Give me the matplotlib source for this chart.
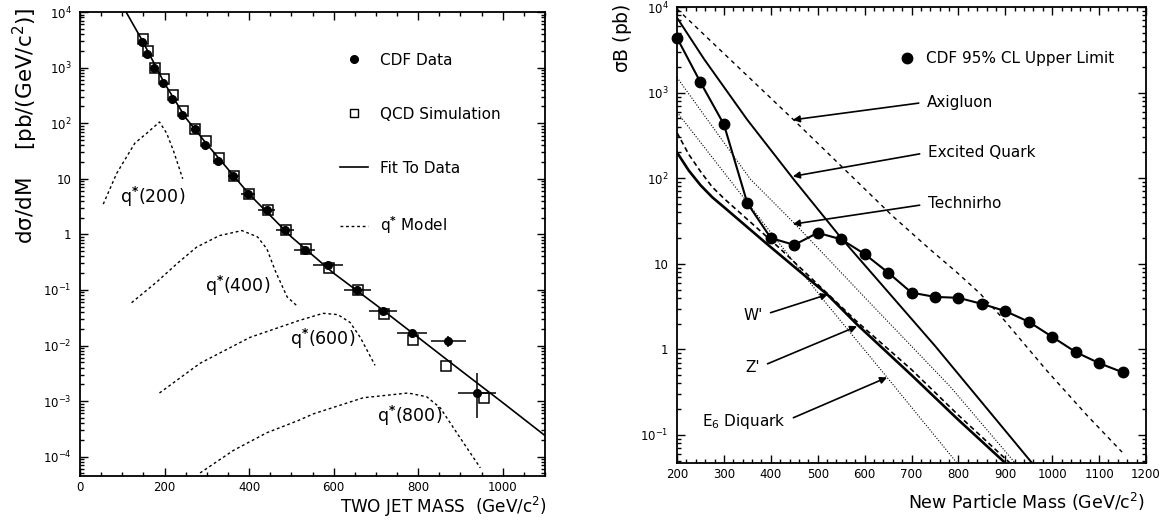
import numpy as np
import matplotlib.pyplot as plt
from matplotlib.ticker import MultipleLocator, FuncFormatter, FixedLocator, NullFormatter
from matplotlib.lines import Line2D

plt.rcParams['font.family'] = ['DejaVu Sans']
plt.rcParams['mathtext.default'] = 'regular'

# ---- left panel: two-jet mass spectrum ----
mass_cdf = [146, 158, 176, 196, 217, 242, 271, 296, 327, 363, 398, 442, 485, 532, 587, 656, 717, 786, 871, 940]
xsec_cdf = [2900, 1750, 1000, 530, 270, 140, 80, 40, 21, 11, 5.4, 2.7, 1.2, 0.53, 0.28, 0.10, 0.042, 0.017, 0.012, 0.0014]
xerr_cdf = [3, 4, 5, 5, 6, 7, 8, 10, 12, 14, 16, 20, 22, 25, 35, 32, 33, 35, 41, 45]
yerr_lo = [0] * 18 + [0.0025, 0.0009]
yerr_hi = [0] * 18 + [0.0031, 0.0018]

mass_qcd = [148, 160, 178, 198, 219, 244, 273, 298, 329, 365, 400, 444, 487, 534, 590, 658, 719, 788, 866, 956]
xsec_qcd = [3300, 2000, 1000, 620, 320, 165, 80, 48, 24, 11, 5.4, 2.8, 1.2, 0.55, 0.25, 0.10, 0.037, 0.0125, 0.0042, 0.00115]

fit_mass = [109, 146, 200, 250, 300, 400, 500, 600, 700, 800, 900, 1000, 1100]
fit_xsec = [1e4, 3200, 520, 125, 42, 5.3, 0.9, 0.2, 0.054, 0.014, 0.0036, 0.00094, 0.00024]

q200_m = [55, 87, 130, 158, 188, 205, 221, 243]
q200_s = [3.5, 12.6, 44, 66, 105, 66, 32, 10]
q400_m = [122, 182, 230, 276, 330, 383, 420, 442, 462, 490, 513]
q400_s = [0.059, 0.14, 0.3, 0.59, 0.95, 1.17, 0.9, 0.55, 0.22, 0.075, 0.052]
q600_m = [188, 284, 402, 517, 575, 610, 639, 663, 698]
q600_s = [0.0014, 0.0048, 0.014, 0.028, 0.038, 0.036, 0.026, 0.014, 0.0044]
q800_m = [284, 363, 442, 517, 552, 670, 776, 820, 852, 899, 947]
q800_s = [5.1e-5, 1.3e-4, 2.7e-4, 4.5e-4, 5.9e-4, 1.15e-3, 1.4e-3, 1.2e-3, 7.6e-4, 2.2e-4, 6.3e-5]

# ---- right panel: limits on new particles ----
ul_mass = [200, 250, 300, 350, 400, 450, 500, 550, 600, 650, 700, 750, 800, 850, 900, 950, 1000, 1050, 1100, 1150]
ul_xsec = [4360, 1320, 425, 51, 20, 16.6, 23, 19.3, 13, 7.9, 4.6, 4.1, 4.0, 3.4, 2.8, 2.1, 1.4, 0.93, 0.69, 0.54]

axi_m = [200, 447, 660, 739, 797, 846, 893, 989, 1074, 1149]
axi_s = [9500, 490, 36, 14.8, 7.9, 4.5, 2.35, 0.56, 0.17, 0.063]
exq_m = [200, 258, 350, 450, 550, 633, 750, 957]
exq_s = [7500, 2450, 480, 95, 20, 6.0, 1.1, 0.047]
tech_m = [200, 356, 452, 605, 782, 921]
tech_s = [1500, 98, 29, 3.8, 0.37, 0.047]
wp_m = [200, 225, 250, 275, 304, 392, 520, 584, 700, 800, 900]
wp_s = [200, 123, 83, 60, 44, 17, 4.4, 1.95, 0.5, 0.15, 0.047]
zp_m = [200, 225, 250, 275, 300, 420, 584, 700, 800, 910]
zp_s = [340, 190, 120, 79, 58, 15, 2.1, 0.58, 0.17, 0.047]
e6_m = [200, 511, 648, 797]
e6_s = [590, 3.85, 0.47, 0.047]

model_names = ['Axigluon', 'Excited Quark', 'Technirho', "W'", "Z'", 'E$_6$ Diquark']


def log_fmt(v, pos):
    e = int(round(np.log10(v)))
    if e == 0:
        return '1'
    if e == 1:
        return '10'
    return r'$10^{%d}$' % e


def style_axes(ax, lo, hi):
    ax.set_yscale('log')
    decades = [10.0 ** e for e in range(lo, hi + 1)]
    ymin, ymax = ax.get_ylim()
    minors = [d * k for d in [10.0 ** e for e in range(lo - 1, hi)] for k in range(2, 10)]
    ax.yaxis.set_major_locator(FixedLocator(decades))
    ax.yaxis.set_minor_locator(FixedLocator([m for m in minors if ymin <= m <= ymax]))
    ax.yaxis.set_major_formatter(FuncFormatter(log_fmt))
    ax.yaxis.set_minor_formatter(NullFormatter())
    ax.tick_params(which='both', direction='in', top=True, right=True, width=1, labelsize=8.5)
    ax.tick_params(which='major', length=6)
    ax.tick_params(which='minor', length=3)
    ax.tick_params(axis='y', pad=6)
    for s in ax.spines.values():
        s.set_linewidth(1.3)


fig = plt.figure(figsize=(11.73, 5.24), dpi=100)
ax1 = fig.add_axes([80 / 1173, 1 - 476 / 524, 465 / 1173, 464 / 524])
ax2 = fig.add_axes([677 / 1173, 1 - 463 / 524, 469 / 1173, 456 / 524])

# left panel
ax1.plot(fit_mass, fit_xsec, '-', color='k', lw=1.2)
for m, s in [(q200_m, q200_s), (q400_m, q400_s), (q600_m, q600_s), (q800_m, q800_s)]:
    ax1.plot(m, s, color='k', lw=1.0, ls=(0, (2, 2)))
ax1.errorbar(mass_cdf, xsec_cdf, xerr=xerr_cdf, yerr=[yerr_lo, yerr_hi], fmt='o', color='k',
             ms=5.5, elinewidth=1.1, capsize=0)
ax1.plot(mass_qcd, xsec_qcd, 's', mfc='none', mec='k', ms=7, mew=1.1)

qlab = r'q$^{\mathbf{*}}$(%d)'
ax1.text(95, 4.7, qlab % 200, fontsize=12.5, va='center')
ax1.text(296, 0.12, qlab % 400, fontsize=12.5, va='center')
ax1.text(497, 0.0134, qlab % 600, fontsize=12.5, va='center')
ax1.text(703, 5.5e-4, qlab % 800, fontsize=12.5, va='center')

handles = [
    Line2D([], [], marker='o', ls='none', color='k', ms=5.5),
    Line2D([], [], marker='s', ls='none', mfc='none', mec='k', ms=6),
    Line2D([], [], color='k', lw=1.2),
    Line2D([], [], color='k', lw=1.0, ls=(0, (2, 2))),
]
ax1.legend(handles, ['CDF Data', 'QCD Simulation', 'Fit To Data', r'q$^{\mathbf{*}}$ Model'],
           loc='upper left', bbox_to_anchor=(0.56, 0.912), frameon=False, fontsize=11,
           borderpad=0, borderaxespad=0, handlelength=1.8, handletextpad=0.8, labelspacing=2.55)

ax1.set_xlim(0, 1100)
ax1.set_ylim(4.5e-5, 1e4)
style_axes(ax1, -4, 4)
ax1.xaxis.set_major_locator(MultipleLocator(200))
ax1.xaxis.set_minor_locator(MultipleLocator(50))

# right panel
ax2.plot(axi_m, axi_s, color='k', lw=1.0, ls=(0, (3, 3)))
ax2.plot(exq_m, exq_s, color='k', lw=1.4)
ax2.plot(tech_m, tech_s, color='k', lw=0.8, ls=(0, (1, 1.5)))
ax2.plot(wp_m, wp_s, color='k', lw=1.9)
ax2.plot(zp_m, zp_s, color='k', lw=1.2, ls=(0, (3, 2)))
ax2.plot(e6_m, e6_s, color='k', lw=0.8, ls=(0, (1, 1.5)))
ax2.plot(ul_mass, ul_xsec, 'o-', color='k', lw=1.5, ms=7.5, clip_on=False, zorder=5)

ax2.legend([Line2D([], [], marker='o', ls='none', color='k', ms=7.5)], ['CDF 95% CL Upper Limit'],
           loc='center left', bbox_to_anchor=(0.475, 0.886), frameon=False, fontsize=11,
           borderpad=0, borderaxespad=0, handlelength=1.0, handletextpad=0.7)

arrow = dict(arrowstyle='-|>', color='k', lw=1.2, shrinkA=4, shrinkB=0, mutation_scale=10)
right_side = dict(arrow, relpos=(0, 0.5))
left_side = dict(arrow, relpos=(1, 0.5))
ax2.annotate(model_names[0], xy=(447, 480), xytext=(733, 776), fontsize=11, va='center', arrowprops=right_side)
ax2.annotate(model_names[1], xy=(447, 105), xytext=(735, 200), fontsize=11, va='center', arrowprops=right_side)
ax2.annotate(model_names[2], xy=(447, 29), xytext=(735, 50), fontsize=11, va='center', arrowprops=right_side)
ax2.annotate(model_names[3], xy=(522, 4.4), xytext=(341, 2.5), fontsize=11, va='center', arrowprops=left_side)
ax2.annotate(model_names[4], xy=(584, 1.86), xytext=(345, 0.62), fontsize=11, va='center', arrowprops=left_side)
ax2.annotate(model_names[5], xy=(648, 0.47), xytext=(253, 0.145), fontsize=11, va='center', arrowprops=left_side)

ax2.set_xlim(200, 1200)
ax2.set_ylim(0.047, 1e4)
style_axes(ax2, -1, 4)
ax2.xaxis.set_major_locator(MultipleLocator(100))
ax2.xaxis.set_minor_locator(MultipleLocator(20))

# axis titles
fig.text(25 / 1173, 1 - 8 / 524, r'd$\sigma$/dM    [pb/(GeV/c$^2$)]', rotation=90, ha='center', va='top', fontsize=15.5)
fig.text(547 / 1173, 1 - 507 / 524, r'TWO JET MASS  (GeV/c$^2$)', ha='right', va='center', fontsize=12.2)
fig.text(623 / 1173, 1 - 4 / 524, r'$\sigma$B (pb)', rotation=90, ha='center', va='top', fontsize=13.5)
fig.text(1145 / 1173, 1 - 502 / 524, r'New Particle Mass (GeV/c$^2$)', ha='right', va='center', fontsize=12.5)

fig.savefig('out.png', dpi=100)
